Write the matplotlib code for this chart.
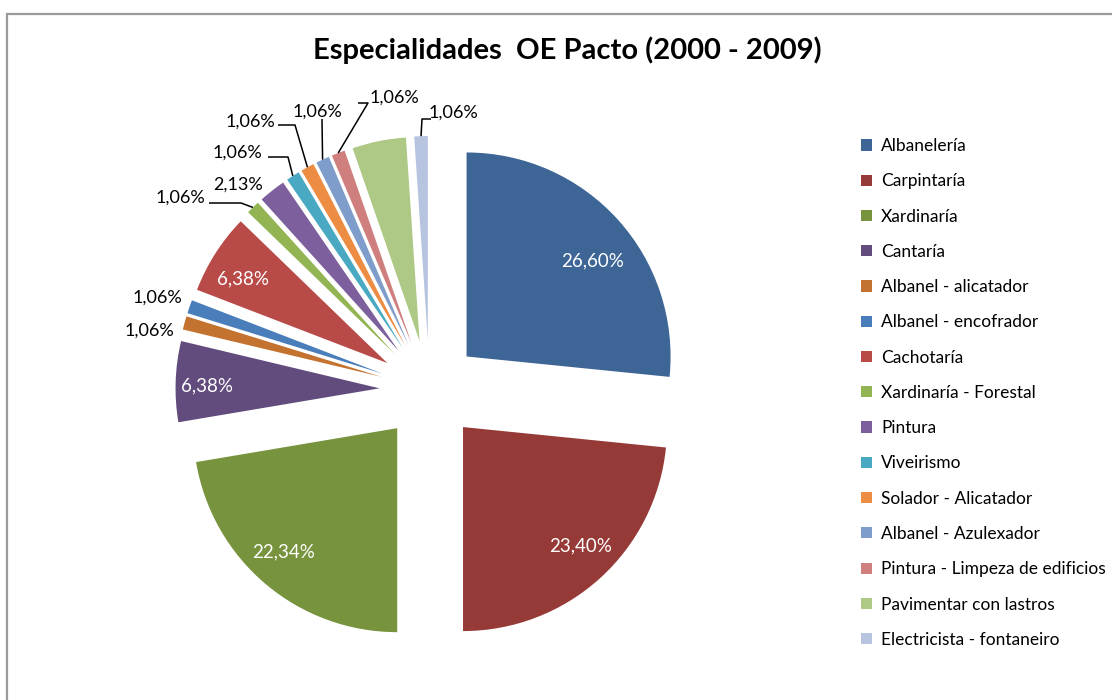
import matplotlib
matplotlib.use("Agg")
import matplotlib.pyplot as plt
from matplotlib.patches import Rectangle
import numpy as np

categories = ["Albanelería", "Carpintaría", "Xardinaría", "Cantaría",
              "Albanel - alicatador", "Albanel - encofrador", "Cachotaría",
              "Xardinaría - Forestal", "Pintura", "Viveirismo",
              "Solador - Alicatador", "Albanel - Azulexador",
              "Pintura - Limpeza de edificios", "Pavimentar con lastros",
              "Electricista - fontaneiro"]
counts = [25, 22, 21, 6, 1, 1, 6, 1, 2, 1, 1, 1, 1, 4, 1]
pct_labels = ["26,60%", "23,40%", "22,34%", "6,38%", "1,06%", "1,06%", "6,38%",
              "1,06%", "2,13%", "1,06%", "1,06%", "1,06%", "1,06%", "", "1,06%"]
colors = ["#3D6596", "#963A38", "#77933D", "#624B7D", "#C4722F", "#4A7EBB",
          "#B84A48", "#93B452", "#7D5F9E", "#4AA9C2", "#EC8D43", "#7F9DCB",
          "#CF7F7D", "#AEC886", "#B6C4E0"]

plt.rcParams['font.family'] = ['Lato', 'DejaVu Sans']

W, H = 1112, 700
fig = plt.figure(figsize=(W / 100, H / 100), dpi=100)

# border
fig.patches.append(Rectangle((7 / W, -0.1), 1.2, 1.1 - 14 / H, transform=fig.transFigure,
                             fill=False, edgecolor="#9A9A9A", linewidth=1.6))

# pie axes: center (429.5, 390) px, radius 204 px
cx, cy, R, half = 429.5, 390.0, 204.0, 260.0
ax = fig.add_axes([(cx - half) / W, (H - cy - half) / H, 2 * half / W, 2 * half / H])

wedges, _ = ax.pie(counts, colors=colors, startangle=90, counterclock=False,
                   explode=[0.245] * len(counts), radius=1.0,
                   wedgeprops=dict(linewidth=0))
lim = half / R
ax.set_xlim(-lim, lim)
ax.set_ylim(-lim, lim)
ax.set_aspect("equal")
ax.axis("off")

def p2d(px, py):
    return ((px - cx) / R, (cy - py) / R)

# inside labels (white)
inside = {0: (593, 261), 1: (581, 546), 2: (284, 552), 3: (207, 386), 6: (243, 279)}
for i, (px, py) in inside.items():
    x, y = p2d(px, py)
    ax.text(x, y, pct_labels[i], color="white", fontsize=13.5, ha="center", va="center")

# outside labels: text centre, leader knee points (px)
outside = {
    4: ((149, 331), []),
    5: ((157, 298), []),
    7: ((180, 198), [(209, 203), (241, 203)]),
    8: ((238, 185), []),
    9: ((237, 153), [(268, 157), (288, 157)]),
    10: ((250, 122), [(278, 125), (295, 125)]),
    11: ((317, 112), [(322, 119)]),
    12: ((394, 98), [(358, 103), (368, 103)]),
    14: ((453, 113), [(431, 119), (422, 119)]),
}
for i, ((px, py), knees) in outside.items():
    x, y = p2d(px, py)
    ax.text(x, y, pct_labels[i], color="black", fontsize=13, ha="center", va="center")
    if knees:
        w = wedges[i]
        mid = np.deg2rad((w.theta1 + w.theta2) / 2)
        ex = w.center[0] + w.r * np.cos(mid)
        ey = w.center[1] + w.r * np.sin(mid)
        pts = [p2d(a, b) for a, b in knees] + [(ex, ey)]
        xs, ys = zip(*pts)
        ax.plot(xs, ys, color="black", linewidth=1.1, solid_capstyle="butt", clip_on=False)

fig.text(567 / W, 1 - 50 / H, "Especialidades  OE Pacto (2000 - 2009)", ha="center", va="center",
         fontsize=21, fontweight="bold")

leg = fig.legend(wedges, categories, loc="upper left", bbox_to_anchor=(861 / W, 1 - 138 / H),
                 frameon=False, fontsize=12.5, handlelength=0.62, handleheight=0.62,
                 handletextpad=0.55, labelspacing=1.11, borderaxespad=0, borderpad=0)

fig.savefig("out.png", dpi=100)
